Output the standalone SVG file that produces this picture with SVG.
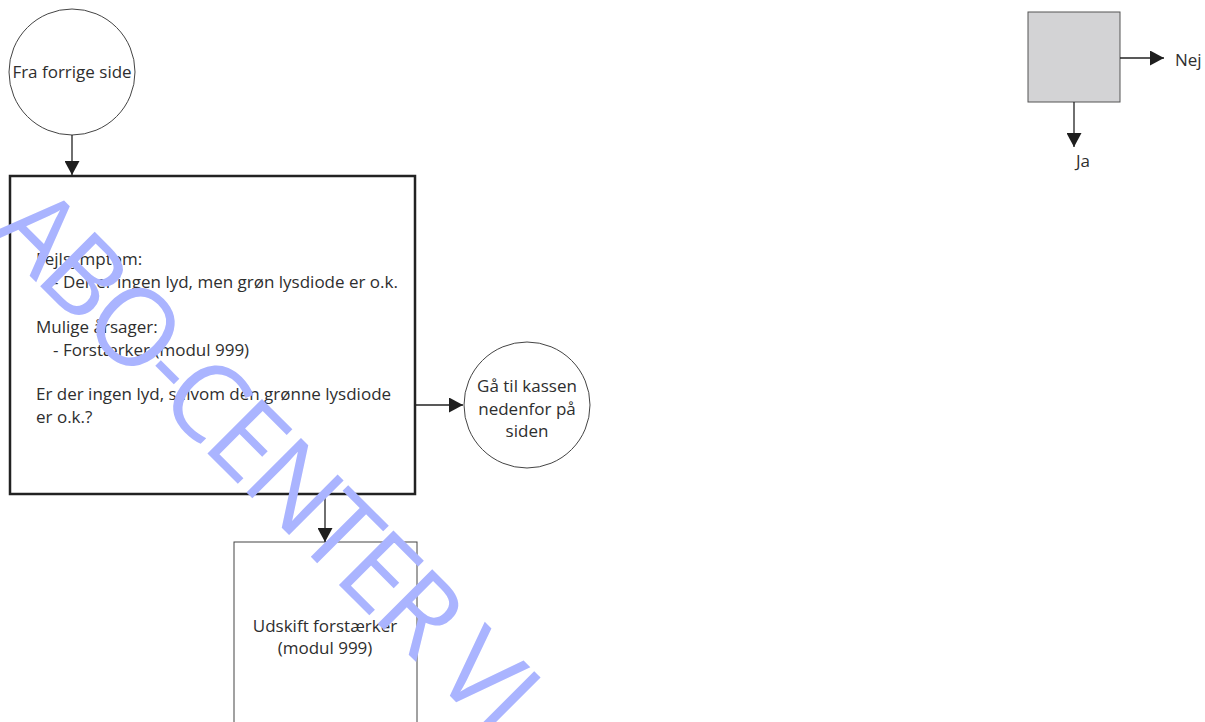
<svg xmlns="http://www.w3.org/2000/svg" width="1205" height="722" viewBox="0 0 1205 722">
<style>
  text { font-family: "Open Sans", "Liberation Sans", sans-serif; font-size: 17px; fill: #2e2e2e; }
  .c { text-anchor: middle; }
  .thin { fill: #fff; stroke: #444; stroke-width: 1; }
  .thick { fill: #fff; stroke: #222; stroke-width: 2.5; }
  .conn { stroke: #222; stroke-width: 1.3; fill: none; }
  .wm { font-family: "Open Sans", "Liberation Sans", sans-serif; font-weight: 400; font-size: 108px; letter-spacing: -5px; fill: #aab4ff; }
</style>
<defs>
  <marker id="arr" viewBox="0 0 14 15" refX="14" refY="7.5" markerWidth="14" markerHeight="15" markerUnits="userSpaceOnUse" orient="auto">
    <path d="M0,0 L14,7.5 L0,15 Z" fill="#1e1e1e"/>
  </marker>
</defs>
<rect width="1205" height="722" fill="#fff"/>

<g id="start">
  <circle cx="72" cy="72" r="63" class="thin"/>
  <text x="72" y="78" class="c">Fra forrige side</text>
</g>

<g id="main">
  <rect x="10" y="176" width="405" height="318" class="thick"/>
  <text x="36" y="265">Fejlsymptom:</text>
  <text x="53" y="288">- Der er ingen lyd, men grøn lysdiode er o.k.</text>
  <text x="36" y="333">Mulige årsager:</text>
  <text x="53" y="356">- Forstærker (modul 999)</text>
  <text x="36" y="400">Er der ingen lyd, selvom den grønne lysdiode</text>
  <text x="36" y="423">er o.k.?</text>
</g>

<g id="goto">
  <circle cx="527" cy="405" r="63" class="thin"/>
  <text x="527" y="392" class="c">Gå til kassen</text>
  <text x="527" y="415" class="c">nedenfor på</text>
  <text x="527" y="437" class="c">siden</text>
</g>

<g id="replace">
  <rect x="234" y="542" width="183" height="200" class="thin"/>
  <text x="325" y="632" class="c">Udskift forstærker</text>
  <text x="325" y="654" class="c">(modul 999)</text>
</g>

<g id="legend">
  <rect x="1028" y="12" width="92" height="90" fill="#d3d3d5" stroke="#555" stroke-width="1"/>
  <text x="1175" y="66">Nej</text>
  <text x="1083" y="167" class="c">Ja</text>
</g>

<g id="connectors">
  <line x1="72" y1="135" x2="72" y2="175" class="conn" marker-end="url(#arr)"/>
  <line x1="416" y1="405" x2="463" y2="405" class="conn" marker-end="url(#arr)"/>
  <line x1="325" y1="495" x2="325" y2="542" class="conn" marker-end="url(#arr)"/>
  <line x1="1120" y1="58" x2="1164" y2="58" class="conn" marker-end="url(#arr)"/>
  <line x1="1074" y1="102" x2="1074" y2="147" class="conn" marker-end="url(#arr)"/>
</g>

<g id="watermark">
  <text class="wm" transform="translate(-12,234) rotate(45)">ABO-CENTER VI</text>
</g>
</svg>
